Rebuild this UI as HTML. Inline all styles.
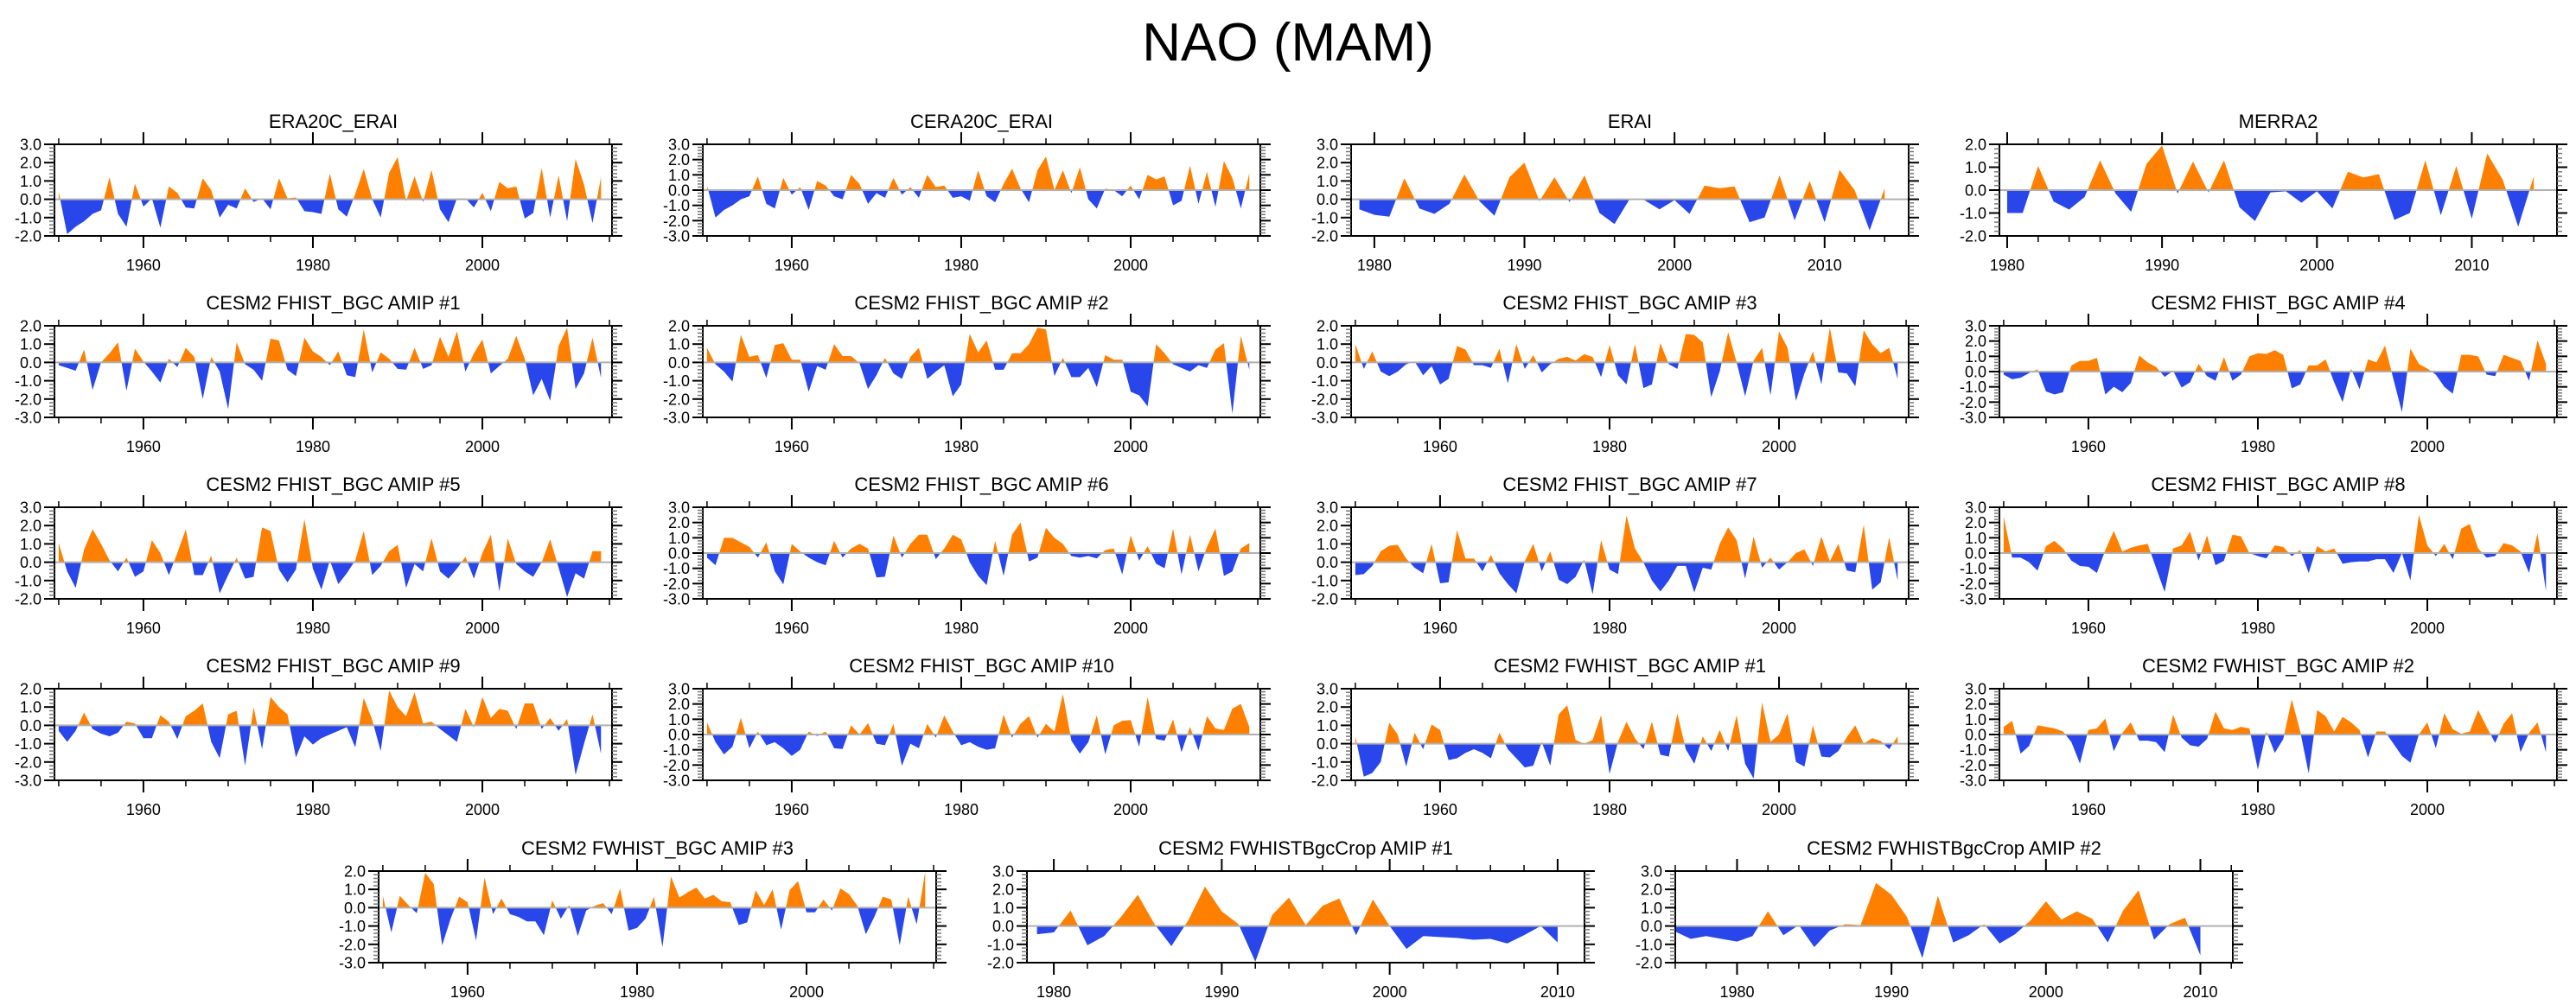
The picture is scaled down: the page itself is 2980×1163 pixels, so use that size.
<!DOCTYPE html>
<html>
<head>
<meta charset="utf-8">
<style>
html,body{margin:0;padding:0;background:#fff;}
svg{display:block;}
text{font-family:"Liberation Sans",Arial,sans-serif;fill:#000;}
</style>
</head>
<body>
<svg id="chart" width="2980" height="1163" viewBox="0 0 2980 1163" xmlns="http://www.w3.org/2000/svg">
<rect x="0" y="0" width="2980" height="1163" fill="#fff"/>
<text x="1490" y="70" font-size="62" text-anchor="middle">NAO (MAM)</text>
</svg>
<script>
// ---- data (NAO index, MAM) ----
const era20cErai = [0.4,-1.9,-1.5,-1.2,-0.8,-0.6,1.2,-0.8,-1.5,0.85,-0.4,0.05,-1.55,0.7,0.35,-0.45,-0.5,1.15,0.5,-1.0,-0.3,-0.5,0.6,-0.15,0.05,-0.55,1.15,0.05,0.1,-0.65,-0.7,-0.8,1.4,-0.55,-0.95,0.3,1.65,0.0,-1.0,1.45,2.3,-0.1,1.25,-0.15,1.6,-0.55,-1.25,0.05,0.05,-0.45,0.35,-0.65,0.95,0.6,0.7,-1.05,-0.75,1.7,-1.0,1.3,-1.2,2.2,0.8,-1.3,1.2];
const cera20cErai = [0.3,-1.8,-1.3,-1.0,-0.6,-0.4,0.9,-0.9,-1.2,0.8,-0.3,0.2,-1.3,0.6,0.3,-0.4,-0.6,1.0,0.4,-0.9,-0.2,-0.5,0.8,-0.3,0.2,-0.5,1.0,0.2,0.3,-0.5,-0.4,-0.7,1.3,-0.4,-0.8,0.4,1.4,0.1,-0.8,1.3,2.2,0.0,1.3,-0.2,1.5,-0.6,-1.2,0.1,0.0,-0.4,0.3,-0.6,1.0,0.7,0.9,-1.0,-0.7,1.6,-0.9,1.2,-1.1,1.9,0.8,-1.2,1.1];
const erai = [-0.55,-0.85,-0.95,1.15,-0.5,-0.8,-0.25,1.35,-0.1,-0.9,1.2,2.0,-0.1,1.2,-0.15,1.3,-0.75,-1.35,0.0,-0.05,-0.55,-0.05,-0.8,0.75,0.6,0.7,-1.25,-1.0,1.3,-1.15,1.0,-1.25,1.6,0.5,-1.7,0.6];
const merra2 = [-1.0,-1.0,1.05,-0.5,-0.85,-0.3,1.3,-0.15,-0.95,1.15,1.95,-0.15,1.25,-0.1,1.3,-0.75,-1.35,-0.1,-0.05,-0.55,-0.05,-0.8,0.8,0.55,0.7,-1.3,-1.0,1.3,-1.1,1.05,-1.25,1.6,0.45,-1.6,0.6];
const fhist1 = [-0.15,-0.3,-0.45,0.7,-1.5,0.0,0.5,1.1,-1.55,0.75,0.05,-0.5,-1.1,0.2,-0.25,0.8,0.3,-2.0,0.3,-0.5,-2.55,1.1,-0.1,-0.4,-1.0,1.3,1.2,-0.4,-0.75,1.35,0.6,0.3,-0.15,0.6,-0.7,-0.8,1.8,-0.55,0.55,0.2,-0.35,-0.4,0.8,-0.35,-0.15,1.4,0.3,1.7,-0.5,0.5,1.25,-0.6,-0.2,0.2,1.45,0.2,-1.8,-0.9,-2.1,0.9,1.9,-1.45,-0.6,1.35,-0.85];
const fhist2 = [0.8,-0.1,-0.5,-1.05,1.5,0.3,0.4,-0.85,0.95,1.05,0.15,0.15,-1.6,-0.2,-0.4,1.0,0.35,0.35,-0.05,-1.45,-0.7,0.25,-0.6,-0.9,0.3,0.8,-0.9,-0.5,-0.15,-1.85,-1.2,1.55,0.55,1.2,-0.4,-0.4,0.5,0.5,1.0,1.9,1.8,-0.75,0.25,-0.8,-0.8,-0.3,-1.35,0.4,0.15,0.15,-1.6,-1.8,-2.4,1.0,0.5,-0.1,-0.3,-0.5,-0.15,-0.3,0.7,1.05,-2.8,1.45,-0.4];
const fhist3 = [1.0,-0.35,0.6,-0.5,-0.75,-0.5,-0.1,0.05,-0.7,-0.2,-1.2,-0.9,0.9,0.7,-0.15,-0.15,-0.3,0.75,-1.15,1.0,-0.35,0.4,-0.55,-0.1,0.2,0.3,0.1,0.45,0.3,-0.8,0.95,-0.7,-1.2,1.0,-1.4,-1.2,1.05,-0.1,-0.35,1.55,1.5,1.1,-1.9,-0.5,1.65,0.0,-1.85,0.1,0.8,-1.8,1.7,0.8,-2.1,-0.6,0.6,-1.2,1.9,-0.55,-0.6,-1.3,1.75,1.0,0.5,0.8,-0.9];
const fhist4 = [-0.2,-0.5,-0.4,-0.1,0.15,-1.3,-1.5,-1.35,0.4,0.7,0.7,0.9,-1.5,-1.0,-1.35,-0.75,1.05,0.6,0.3,-0.35,0.05,-1.05,-0.7,0.5,-0.3,-0.6,0.95,-0.6,-0.2,1.0,1.2,1.15,1.4,1.1,-1.1,-0.85,0.4,0.4,0.8,-0.7,-2.0,0.2,-1.15,0.8,0.6,1.7,-0.5,-2.65,1.5,0.5,0.2,-0.2,-1.0,-1.45,1.1,1.1,1.0,-0.2,-0.3,1.1,0.9,0.7,-0.6,2.05,0.5];
const fhist5 = [1.05,-0.5,-1.4,0.7,1.8,1.0,0.1,-0.5,0.25,-0.8,-0.5,1.2,0.5,-0.7,0.5,1.8,-0.7,-0.7,0.35,-1.7,-0.7,0.25,-0.9,-0.8,1.9,1.7,-0.4,-1.1,-0.4,2.35,-0.35,-1.5,0.1,-1.2,-0.6,0.1,1.7,-0.7,-0.2,0.6,0.95,-1.4,-0.1,-0.5,1.3,-0.5,-0.9,-0.35,0.3,-0.9,0.5,1.5,-1.6,1.3,-0.1,-0.5,-0.8,0.0,1.25,-0.3,-1.9,-0.6,-0.9,0.6,0.6];
const fhist6 = [-0.3,-0.8,1.0,1.0,0.7,0.4,-0.3,0.7,-1.2,-2.05,0.6,0.1,-0.3,-0.6,-0.8,0.8,-0.3,0.3,0.6,0.3,-1.6,-1.55,1.15,-0.3,0.6,1.2,1.2,-0.4,0.3,1.2,0.9,-0.6,-1.5,-2.1,0.8,-1.5,1.2,2.0,-0.55,-0.3,1.65,1.0,0.6,-0.2,-0.3,-0.2,-0.35,0.2,0.3,-1.4,1.15,-0.5,0.45,-0.7,-1.0,1.6,-1.4,1.2,-1.2,0.4,1.6,-1.5,-1.2,0.3,0.65];
const fhist7 = [-0.7,-0.65,-0.2,0.6,0.9,0.95,0.2,-0.3,-0.6,1.0,-1.15,-1.1,1.75,0.2,0.2,-0.5,0.4,-0.6,-1.2,-1.7,0.05,1.0,-0.5,0.6,-0.95,-1.2,-0.8,0.15,-1.75,1.2,-0.4,-0.65,2.55,0.75,0.0,-1.0,-1.6,-1.0,-0.2,-0.2,-1.65,-0.3,-0.4,1.0,1.9,1.2,-0.9,1.4,-0.3,0.25,-0.4,0.0,0.5,0.7,-0.2,1.4,0.05,1.0,-0.45,-0.55,2.05,-1.5,-1.1,1.35,-1.0];
const fhist8 = [2.4,-0.3,-0.3,-0.6,-1.15,0.45,0.8,0.3,-0.5,-0.85,-0.9,-1.3,0.2,1.45,0.1,0.35,0.5,0.6,-1.0,-2.55,0.3,0.5,1.4,-0.5,1.15,-0.8,-0.5,1.2,1.1,0.0,-0.2,-0.35,0.5,0.4,-0.2,0.2,-1.3,0.45,0.1,0.3,-0.7,-0.6,-0.55,-0.55,-0.4,-0.4,-1.3,0.0,-1.8,2.5,0.5,-0.2,0.6,-0.4,1.6,1.9,0.3,-0.3,-0.2,0.65,0.5,0.1,-1.3,1.3,-2.5];
const fhist9 = [-0.3,-0.9,-0.3,0.7,-0.2,-0.45,-0.6,-0.4,0.2,0.1,-0.7,-0.7,0.55,0.2,-0.75,0.5,0.8,1.2,-0.9,-1.8,0.6,0.8,-2.2,1.0,-1.3,1.55,1.0,0.6,-1.75,-0.6,-1.05,-0.7,-0.5,-0.3,-0.1,-1.2,1.5,0.3,-1.4,1.9,1.0,0.5,1.8,0.1,0.2,-0.2,-0.55,-0.9,0.9,-0.1,1.55,0.4,0.9,0.8,-0.2,1.2,1.2,-0.2,0.4,-0.3,0.35,-2.7,-1.0,0.6,-1.55];
const fhist10 = [0.8,-0.5,-1.3,-0.8,1.1,-0.9,0.2,-0.7,-0.5,-0.9,-1.4,-1.0,0.2,-0.1,0.2,-0.9,-0.95,0.6,0.0,0.75,-0.6,-0.7,0.7,-2.05,-0.6,-0.9,0.7,-0.2,1.25,0.2,-0.7,-0.5,-0.8,-1.0,-0.9,1.3,-0.2,0.7,1.2,-0.2,0.7,0.2,2.65,-0.4,-1.25,-0.5,1.25,-1.3,0.6,0.9,0.95,-0.8,2.45,-0.3,-0.4,1.0,-1.15,0.5,-1.05,1.2,0.4,0.3,1.7,2.0,0.5];
const fwhist1 = [0.4,-1.8,-1.6,-1.0,1.15,0.5,-1.25,0.6,-0.3,1.05,0.75,-0.9,-0.8,-0.5,-0.3,-0.5,-0.8,0.6,-0.3,-0.8,-1.3,-1.2,0.1,-1.2,1.6,2.1,0.2,0.0,0.2,1.55,-1.65,0.1,1.2,0.3,-0.3,1.2,-0.6,-0.7,1.65,-0.3,-1.1,0.4,-0.4,0.75,-0.4,1.55,-1.1,-1.9,2.25,0.1,0.5,1.65,-1.0,-1.25,1.0,-0.7,-0.75,-0.4,0.35,1.0,0.0,0.3,0.15,-0.3,0.4];
const fwhist2 = [0.5,0.9,-1.25,-0.75,0.6,0.5,0.4,0.2,-0.5,-1.9,0.3,0.4,1.05,-1.1,0.1,0.8,-0.4,-0.4,-0.5,-1.15,1.3,-0.2,-0.7,-0.8,-0.3,1.5,0.4,0.3,0.5,0.4,-2.3,0.2,-1.2,-0.3,2.3,0.2,-2.55,1.6,1.2,0.2,1.15,0.8,0.3,-1.5,0.2,0.2,-0.6,-1.4,-1.85,0.0,0.8,-0.9,1.4,0.35,0.05,0.2,1.6,0.5,-0.55,0.7,1.4,-1.15,0.1,0.8,-1.15];
const fwhist3 = [0.65,-1.35,0.65,0.15,-0.3,1.9,1.3,-2.05,-0.6,0.6,0.3,-1.8,1.65,-0.35,0.5,-0.35,-0.5,-0.75,-0.75,-1.5,0.4,-0.6,0.15,-1.55,-0.15,0.1,0.25,-0.35,1.05,-1.25,-1.1,-0.6,0.6,-2.15,1.7,0.55,0.85,1.1,0.5,0.7,0.35,0.3,-0.95,-0.8,0.95,0.15,1.0,-1.2,0.95,1.45,-0.25,-0.25,0.45,-0.15,1.05,0.75,0.1,-1.45,-0.5,0.6,0.45,-2.05,0.6,-0.9,1.95];
const crop1 = [-0.45,-0.35,0.85,-1.05,-0.55,0.5,1.7,0.1,-1.1,0.3,2.15,0.8,0.1,-1.95,0.6,1.55,0.05,1.1,1.5,-0.5,1.45,0.0,-1.25,-0.55,-0.6,-0.65,-0.75,-0.7,-0.95,-0.5,0.0,-0.9];
const crop2 = [-0.3,-0.7,-0.55,-0.7,-0.85,-0.55,0.8,-0.5,0.05,-1.15,-0.25,0.1,0.05,2.35,1.7,0.5,-1.75,1.65,-0.9,-0.5,0.1,-0.95,-0.45,0.3,1.35,0.35,0.8,0.4,-0.9,0.85,1.95,-0.75,0.1,0.45,-1.6];

const panelTitles = ["ERA20C_ERAI","CERA20C_ERAI","ERAI","MERRA2",
 "CESM2 FHIST_BGC AMIP #1","CESM2 FHIST_BGC AMIP #2","CESM2 FHIST_BGC AMIP #3","CESM2 FHIST_BGC AMIP #4",
 "CESM2 FHIST_BGC AMIP #5","CESM2 FHIST_BGC AMIP #6","CESM2 FHIST_BGC AMIP #7","CESM2 FHIST_BGC AMIP #8",
 "CESM2 FHIST_BGC AMIP #9","CESM2 FHIST_BGC AMIP #10","CESM2 FWHIST_BGC AMIP #1","CESM2 FWHIST_BGC AMIP #2",
 "CESM2 FWHIST_BGC AMIP #3","CESM2 FWHISTBgcCrop AMIP #1","CESM2 FWHISTBgcCrop AMIP #2"];
const panelSeries = [era20cErai,cera20cErai,erai,merra2,fhist1,fhist2,fhist3,fhist4,fhist5,fhist6,fhist7,fhist8,fhist9,fhist10,fwhist1,fwhist2,fwhist3,crop1,crop2];
const startYears = [1950,1950,1979,1980,1950,1950,1950,1950,1950,1950,1950,1950,1950,1950,1950,1950,1950,1979,1976];
const yMins = [-2,-3,-2,-2,-3,-3,-3,-3,-2,-3,-2,-3,-3,-3,-2,-3,-3,-2,-2];
const yMaxs = [3,3,3,2,2,2,2,3,3,3,3,3,2,3,3,3,2,3,3];
const xMins = [1949.5,1949.5,1978.45,1979.5,1949.5,1949.5,1949.5,1949.5,1949.5,1949.5,1949.5,1949.5,1949.5,1949.5,1949.5,1949.5,1949.5,1978.4,1976];
const xMaxs = [2015.3,2015.3,2015.6,2015.5,2015.3,2015.3,2015.3,2015.3,2015.3,2015.3,2015.3,2015.3,2015.3,2015.3,2015.3,2015.3,2015.3,2011.6,2012.1];
const majorStep = [20,20,10,10,20,20,20,20,20,20,20,20,20,20,20,20,20,10,10];
const minorStep = [5,5,2,2,5,5,5,5,5,5,5,5,5,5,5,5,5,2,2];

const NS = "http://www.w3.org/2000/svg";
const svg = document.getElementById("chart");
const colLefts = [63,813,1563,2313];
const rowTops = [167,377,587,797];
const lastLefts = [438,1188,1938];
const BW = 645, BH = 106;
const ORANGE = "#ff8000", BLUE = "#2846ea";

function mk(tag, attrs, parent){
  const e = document.createElementNS(NS, tag);
  for (const k in attrs) e.setAttribute(k, attrs[k]);
  (parent||svg).appendChild(e);
  return e;
}
function fmt(v){ return (Math.abs(v)<1e-9?0:v).toFixed(1); }

for (let p = 0; p < panelTitles.length; p++) {
  let L, T;
  if (p < 16) { L = colLefts[p % 4]; T = rowTops[Math.floor(p / 4)]; }
  else { L = lastLefts[p - 16]; T = 1008; }
  const R = L + BW, B = T + BH;
  const xmin = xMins[p], xmax = xMaxs[p], ymin = yMins[p], ymax = yMaxs[p];
  const xs = v => L + (v - xmin) / (xmax - xmin) * BW;
  const ys = v => B - (v - ymin) / (ymax - ymin) * BH;
  const g = mk("g", {});
  
  

  const t = mk("text", {x: (L + R) / 2, y: T - 19, "font-size": 22, "text-anchor": "middle"}, g);
  t.textContent = panelTitles[p];
  
  

  // fill polygons
  const vals = panelSeries[p], y0 = ys(0);
  const id = "c" + p;
  const defs = mk("defs", {}, g);
  const cpA = mk("clipPath", {id: id + "a"}, defs);
  mk("rect", {x: L, y: T, width: BW, height: y0 - T}, cpA);
  const cpB = mk("clipPath", {id: id + "b"}, defs);
  mk("rect", {x: L, y: y0, width: BW, height: B - y0}, cpB);
  let d = "M" + xs(startYears[p]).toFixed(2) + "," + y0.toFixed(2);
  for (let i = 0; i < vals.length; i++) {
    d += " L" + xs(startYears[p] + i).toFixed(2) + "," + ys(vals[i]).toFixed(2);
  }
  d += " L" + xs(startYears[p] + vals.length - 1).toFixed(2) + "," + y0.toFixed(2) + " Z";
  const pos = mk("path", {d: d, fill: ORANGE, "clip-path": "url(#" + id + "a)"}, g);
  
  
  const neg = mk("path", {d: d, fill: BLUE, "clip-path": "url(#" + id + "b)"}, g);
  
  

  // zero line
  const zl = mk("line", {x1: L, x2: R, y1: y0, y2: y0, stroke: "#b0b0b0", "stroke-width": 2}, g);
  
  

  // box
  const box = mk("rect", {x: L, y: T, width: BW, height: BH, fill: "none", stroke: "#000", "stroke-width": 2}, g);
  
  

  // y ticks
  for (let v = ymin; v <= ymax + 1e-9; v = Math.round((v + 0.2) * 10) / 10) {
    const y = ys(v);
    const isMaj = Math.abs(v - Math.round(v)) < 1e-6;
    const len = isMaj ? 12 : 6;
    mk("line", {x1: L - len, x2: L, y1: y, y2: y, stroke: isMaj ? "#000" : "#777", "stroke-width": isMaj ? 2 : 1.5}, g);
    mk("line", {x1: R, x2: R + len, y1: y, y2: y, stroke: isMaj ? "#000" : "#777", "stroke-width": isMaj ? 2 : 1.5}, g);
    if (isMaj) {
      const yl = mk("text", {x: L - 15, y: y + 6.5, "font-size": 18, "text-anchor": "end"}, g);
      yl.textContent = fmt(v);
      
      
    }
  }
  // x ticks
  const ms = minorStep[p], Ms = majorStep[p];
  for (let yr = Math.ceil(xmin / ms) * ms; yr <= xmax; yr += ms) {
    const x = xs(yr);
    const isMaj = yr % Ms === 0;
    const len = isMaj ? 14 : 7;
    mk("line", {x1: x, x2: x, y1: T - len, y2: T, stroke: "#000", "stroke-width": isMaj ? 2 : 1.5}, g);
    mk("line", {x1: x, x2: x, y1: B, y2: B + len, stroke: "#000", "stroke-width": isMaj ? 2 : 1.5}, g);
    if (isMaj) {
      const xl = mk("text", {x: x, y: B + 40, "font-size": 18, "text-anchor": "middle"}, g);
      xl.textContent = String(yr);
      
      
    }
  }
}
</script>
</body>
</html>
